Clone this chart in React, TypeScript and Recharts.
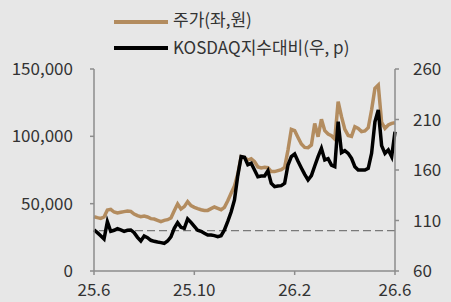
import React from "react";
import { LineChart, Line, XAxis, YAxis, ReferenceLine } from "recharts";

// 25.6 ~ 26.6, evenly spaced readings
const monthLabels = ["25.6", "25.10", "26.2", "26.6"];
const monthTickIdx = [0, 30, 60, 90];

const priceWon = [
  40300, 39600, 39100, 40100, 45300, 45800, 43800, 43100, 43600, 44100,
  44600, 44300, 42300, 41100, 40300, 40800, 40100, 38900, 38600, 37600,
  36600, 37600, 38100, 39400, 44800, 49700, 46000, 47800, 51500, 48500,
  47300, 46300, 45500, 45000, 45000, 46300, 47500, 46500, 45500, 47300,
  52200, 57700, 63100, 72000, 84900, 84200, 82400, 83400, 81200, 77200,
  76500, 77000, 76700, 73800, 73800, 74500, 75200, 77000, 89800, 105200,
  104200, 99200, 94300, 91800, 91600, 93600, 109600, 99700, 112600, 104200,
  101700, 100500, 98000, 125700, 114600, 105200, 100700, 100000, 107200, 105900,
  103500, 104000, 106400, 119500, 135600, 138100, 110400, 105900, 108400, 109600,
  110100,
];

const vsKosdaq = [
  100.6, 98.0, 95.0, 91.7, 108.8, 99.3, 100.3, 101.9, 100.6, 99.3,
  100.3, 100.6, 98.0, 93.3, 89.7, 94.7, 93.0, 90.4, 89.4, 88.7,
  88.1, 87.4, 89.7, 93.7, 102.2, 107.9, 103.2, 102.2, 111.5, 108.2,
  104.2, 100.3, 99.3, 97.3, 95.6, 95.6, 95.0, 94.0, 95.0, 100.6,
  109.2, 118.4, 130.3, 154.7, 173.2, 172.5, 165.3, 166.6, 160.0, 153.4,
  154.1, 154.1, 159.3, 146.8, 143.5, 144.2, 144.5, 146.8, 164.9, 173.2,
  175.8, 168.6, 162.0, 155.7, 150.1, 154.4, 164.0, 173.2, 181.4, 169.9,
  171.2, 164.9, 163.3, 207.8, 177.2, 179.1, 176.5, 171.5, 163.3, 160.0,
  160.0, 160.0, 161.6, 176.5, 207.8, 219.4, 184.1, 176.5, 179.8, 173.2,
  197.9,
];

const leftTicks = [0, 50000, 100000, 150000];
const rightTicks = [60, 110, 160, 210, 260];

const BROWN = "#b38c5f";
const AXIS = "#8c8c8c";
const TEXT = "#333";
const FONT = '"Noto Sans CJK KR", "Noto Sans", sans-serif';

const data = priceWon.map((p, i) => ({ x: i, price: p, rel: vsKosdaq[i] }));

const tickStyle = { fontSize: 17, fill: TEXT, fontFamily: FONT };

export default function App() {
  return (
    <div
      style={{
        position: "absolute",
        left: 0,
        top: 0,
        width: 451,
        height: 302,
        background: "#e7e7e7",
        fontFamily: FONT,
        overflow: "hidden",
      }}
    >
      {/* legend */}
      <div style={{ position: "absolute", left: 114, top: 20, width: 54, height: 4, background: BROWN }} />
      <div style={{ position: "absolute", left: 173, top: 7, fontSize: 17, color: TEXT, lineHeight: "24px" }}>
        주가(좌,원)
      </div>
      <div style={{ position: "absolute", left: 114, top: 46, width: 54, height: 4, background: "#000" }} />
      <div style={{ position: "absolute", left: 173, top: 35, fontSize: 17, color: TEXT, lineHeight: "24px" }}>
        KOSDAQ지수대비(우, p)
      </div>

      <LineChart width={451} height={302} data={data} margin={{ top: 69, right: 0, bottom: 1, left: 0 }}>
        <XAxis
          dataKey="x"
          type="number"
          domain={[0, 90]}
          ticks={monthTickIdx}
          tickFormatter={(v) => monthLabels[monthTickIdx.indexOf(v)]}
          stroke={AXIS}
          strokeWidth={1.5}
          height={30}
          tickSize={4}
          tickMargin={9}
          tick={tickStyle}
          interval={0}
        />
        <YAxis
          yAxisId="left"
          width={94}
          domain={[0, 150000]}
          ticks={leftTicks}
          tickFormatter={(v) => v.toLocaleString("en-US")}
          stroke={AXIS}
          strokeWidth={1.5}
          tickSize={4}
          tickMargin={17}
          tick={tickStyle}
          interval={0}
        />
        <YAxis
          yAxisId="right"
          orientation="right"
          width={56}
          domain={[60, 260]}
          ticks={rightTicks}
          stroke={AXIS}
          strokeWidth={1.5}
          tickSize={4}
          tickMargin={14}
          tick={{ ...tickStyle, textAnchor: "start" }}
          interval={0}
        />
        <ReferenceLine yAxisId="right" y={100} stroke="#7a7a7a" strokeWidth={1.3} strokeDasharray="8 4" />
        <Line
          yAxisId="left"
          type="linear"
          dataKey="price"
          stroke={BROWN}
          strokeWidth={3.5}
          dot={false}
          isAnimationActive={false}
        />
        <Line
          yAxisId="right"
          type="linear"
          dataKey="rel"
          stroke="#000"
          strokeWidth={3.5}
          dot={false}
          isAnimationActive={false}
        />
      </LineChart>
    </div>
  );
}
